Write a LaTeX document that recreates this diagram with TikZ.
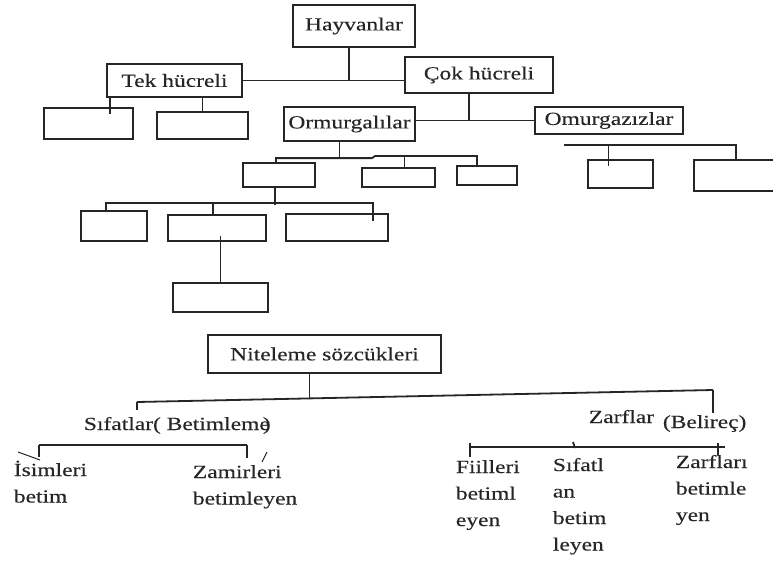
\documentclass[tikz,border=0pt]{standalone}
\usepackage{fontspec}
\setmainfont{Liberation Serif}[FakeStretch=1.27, FakeBold=0.2]

\tikzset{
	kutu/.style={draw, inner sep=0pt, font=\fontsize{18.5}{26.5}\selectfont},
	yazi/.style={inner sep=0pt, align=left, anchor=base west, font=\fontsize{18.5}{26.5}\selectfont}
}

\begin{document}
\begin{tikzpicture}[x=1pt, y=1pt, line width=1.8pt, black!85]
		\clip (0,0) rectangle (773,-562);
		\fill[white] (0,0) rectangle (773,-562);

		% hayvanlar
		\node[kutu, minimum width=122, minimum height=42] (hay) at (354,-26) {Hayvanlar};
		\node[kutu, minimum width=135, minimum height=33] (tek) at (174.5,-80.5) {Tek hücreli};
		\node[kutu, minimum width=148, minimum height=36] (cok) at (479,-75) {Çok hücreli};
		\node[kutu, minimum width=89, minimum height=31] (t1) at (88.5,-123.5) {};
		\node[kutu, minimum width=91, minimum height=27] (t2) at (202.5,-125.5) {};
		\node[kutu, minimum width=131, minimum height=34] (orm) at (349.5,-124) {Ormurgalılar};
		\node[kutu, minimum width=148, minimum height=27] (oms) at (609,-120.5) {Omurgazızlar};
		\node[kutu, minimum width=65, minimum height=28] (s1) at (620.5,-174) {};
		\node[kutu, minimum width=106, minimum height=31] (s2) at (747,-175.5) {};
		\node[kutu, minimum width=72, minimum height=24] (om1) at (279,-175) {};
		\node[kutu, minimum width=73, minimum height=19] (om2) at (398.5,-177.5) {};
		\node[kutu, minimum width=60, minimum height=19] (om3) at (487,-175.5) {};
		\node[kutu, minimum width=66, minimum height=30] (om11) at (114,-226) {};
		\node[kutu, minimum width=98, minimum height=26] (om12) at (217,-228) {};
		\node[kutu, minimum width=102, minimum height=27] (om13) at (337,-227.5) {};
		\node[kutu, minimum width=95, minimum height=29] (om121) at (220.5,-297.5) {};

		\draw (tek.east) -- (tek.east -| cok.west);
		\draw ([xshift=-5]hay.south) -- ([xshift=-5]hay.south |- tek.east);
		\draw ([xshift=4]tek.south west) -- ++(0,-16);
		\draw (t2.north) -- (t2.north |- tek.south);
		\draw ([xshift=-10]cok.south) -- ([xshift=-10]cok.south |- oms.west);
		\draw (orm.east |- oms.west) -- (oms.west);

		\coordinate (sb) at (564,-145);
		\draw (sb) -- ([xshift=43]s2.north west |- sb) -- ([xshift=43]s2.north west);
		\draw ([xshift=-12]s1.north |- sb) -- ([xshift=-12]s1.north) -- ++(0,-7);

		\coordinate (ob) at (375,-156);
		\draw ([xshift=-10]orm.south) -- ++(0,-15);
		\draw ([xshift=-3]om1.north) -- ++(0,4) -- ++(96,0) -- (ob) -- ([xshift=-10]om3.north |- ob) -- ([xshift=-10]om3.north);
		\draw ([xshift=6]om2.north) -- ++(0,11);

		\draw ([xshift=-4]om1.south) -- ++(0,-17);
		\draw ([xshift=-8,yshift=-2]om11.north) -- ++(0,9) -| ([xshift=36,yshift=-8]om13.north);
		\draw ([xshift=-4]om12.north) -- ++(0,11);
		\draw (om121.north) -- ([yshift=6]om121.north |- om12.south);

		% niteleme sozcukleri
		\node[kutu, minimum width=233, minimum height=38] (nit) at (324.5,-354) {Niteleme sözcükleri};
		\node[yazi] (sif) at (83,-430) {Sıfatlar( Betimleme\kern-7pt)};
		\node[yazi] (zarf) at (588,-423) {Zarflar};
		\node[yazi] (bel) at (662,-428) {(Belireç)};
		\node[yazi] (isim) at (13,-502.5) {İsimleri\\betim};
		\node[yazi] (zamir) at (192,-504.5) {Zamirleri\\betimleyen};
		\node[yazi] (fiil) at (455,-526) {Fiilleri\\betiml\\eyen};
		\node[yazi] (sifl) at (552,-550.5) {Sıfatl\\an\\betim\\leyen};
		\node[yazi] (zarfl) at (675,-521) {Zarfları\\betimle\\yen};

		\coordinate (nl) at (137,-402);
		\coordinate (nr) at (713,-390);
		\draw (nl) -- (nr);
		\draw ([xshift=-15]nit.south) -- ++(0,-25);
		\draw (nl) -- ++(0,-8);
		\draw (nr) -- ++(0,-23);

		\coordinate (sl) at (39,-445);
		\coordinate (sr) at (247,-445);
		\draw (sl) -- (sr);
		\draw (sl) -- ++(0,-12);
		\draw (sr) -- ++(0,-13);
		\draw[line width=1pt] (18,-452) -- (40,-460);
		\draw[line width=1pt] (267,-452) -- (262,-462);

		\coordinate (zl) at (470,-447);
		\coordinate (zr) at (725,-447);
		\draw (zl) -- (zr);
		\draw ([yshift=4]zl) -- ++(0,-14);
		\draw ([xshift=103,yshift=5]zl) -- ++(2,-6);
		\draw ([xshift=-7,yshift=4]zr) -- ++(0,-12);
	\end{tikzpicture}
\end{document}
